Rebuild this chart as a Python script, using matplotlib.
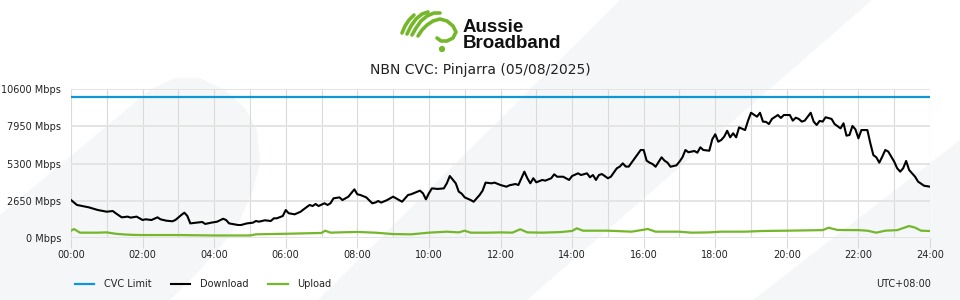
import matplotlib.pyplot as plt
from matplotlib.patches import Polygon, Circle
import numpy as np

plt.rcParams['font.family'] = ['DejaVu Sans']

# NBN CVC Pinjarra 05/08/2025 (minute of day, Mbps)
cvc_limit = 10000

download = [
    (0, 2700), (10, 2350), (30, 2180), (45, 1990), (60, 1870), (70, 1920), (75, 1760),
    (85, 1470), (95, 1520), (100, 1450), (110, 1520), (120, 1280), (125, 1330), (135, 1280),
    (145, 1470), (150, 1330), (160, 1230), (170, 1190), (175, 1280), (185, 1640), (190, 1800),
    (195, 1570), (200, 1040), (210, 1090), (220, 1140), (225, 1000), (235, 1090), (245, 1160),
    (255, 1370), (260, 1280), (265, 1040), (280, 925), (285, 925), (295, 1040), (305, 1090),
    (310, 1210), (315, 1160), (325, 1260), (335, 1210), (340, 1400), (345, 1400), (355, 1565),
    (360, 1990), (365, 1760), (375, 1685), (385, 1870), (390, 2040), (400, 2350), (405, 2275),
    (410, 2420), (415, 2275), (425, 2470), (430, 2350), (435, 2470), (440, 2820), (450, 2890),
    (455, 2700), (465, 2940), (475, 3460), (480, 3110), (485, 3060), (495, 2890), (505, 2470),
    (510, 2520), (515, 2630), (520, 2520), (530, 2700), (540, 2940), (550, 2700), (555, 2580),
    (565, 3060), (570, 3110), (585, 3370), (590, 3180), (595, 2750), (600, 3180), (605, 3530),
    (615, 3490), (625, 3530), (630, 3890), (635, 4410), (645, 3890), (650, 3300), (655, 3150),
    (660, 2890), (670, 2700), (675, 2580), (685, 3060), (690, 3370), (695, 3940), (705, 3890),
    (710, 3940), (720, 3770), (730, 3650), (735, 3750), (745, 3840), (750, 3770), (755, 4250),
    (760, 4720), (765, 4250), (770, 3890), (775, 4250), (780, 3960), (790, 4130), (795, 4080),
    (805, 4250), (810, 4530), (815, 4360), (825, 4360), (835, 4130), (840, 4410), (850, 4600),
    (855, 4480), (865, 4600), (870, 4320), (875, 4480), (880, 4130), (885, 4480), (890, 4550),
    (900, 4250), (905, 4360), (915, 4960), (920, 5080), (925, 5310), (930, 5080), (935, 5080),
    (945, 5670), (955, 6260), (960, 6260), (965, 5500), (970, 5360), (975, 5260), (980, 5070),
    (990, 5740), (995, 5500), (1000, 5360), (1005, 5070), (1015, 5170), (1020, 5430),
    (1025, 5740), (1030, 6260), (1035, 6100), (1045, 6190), (1050, 6070), (1055, 6450),
    (1060, 6260), (1070, 6210), (1075, 7020), (1080, 7380), (1085, 6850), (1090, 6970),
    (1095, 7210), (1100, 7630), (1105, 7160), (1110, 7450), (1115, 7160), (1120, 7870),
    (1130, 7680), (1135, 8350), (1140, 8910), (1150, 8630), (1155, 8910), (1160, 8280),
    (1165, 8260), (1170, 8110), (1175, 8470), (1185, 8750), (1190, 8540), (1195, 8750),
    (1205, 8750), (1210, 8350), (1215, 8560), (1220, 8470), (1225, 8280), (1230, 8350),
    (1240, 8910), (1245, 8280), (1250, 8040), (1255, 8330), (1260, 8280), (1265, 8590),
    (1275, 8470), (1280, 8110), (1290, 7800), (1295, 8160), (1300, 7280), (1305, 7330),
    (1310, 7970), (1315, 7730), (1320, 7090), (1325, 7680), (1335, 7680), (1340, 6740),
    (1345, 5900), (1350, 5740), (1355, 5360), (1360, 5790), (1365, 6260), (1370, 6150),
    (1380, 5430), (1385, 4960), (1390, 4720), (1395, 4960), (1400, 5480), (1405, 4840),
    (1415, 4360), (1420, 4010), (1430, 3720), (1440, 3650),
]

upload = [
    (0, 520), (5, 640), (15, 380), (45, 380), (60, 400), (75, 300), (90, 250), (105, 220),
    (120, 210), (180, 210), (240, 180), (300, 180), (310, 260), (330, 280), (360, 300),
    (390, 330), (420, 360), (426, 520), (435, 380), (450, 400), (480, 430), (510, 380),
    (540, 280), (570, 260), (600, 380), (630, 450), (650, 400), (660, 520), (670, 380),
    (700, 380), (720, 400), (740, 380), (753, 620), (765, 400), (790, 380), (820, 420),
    (840, 500), (848, 690), (858, 520), (900, 520), (940, 450), (967, 640), (980, 450),
    (1020, 450), (1040, 380), (1070, 400), (1090, 450), (1130, 450), (1160, 500), (1200, 520),
    (1260, 560), (1270, 730), (1285, 570), (1320, 560), (1335, 520), (1350, 380), (1365, 520),
    (1385, 560), (1405, 850), (1415, 740), (1425, 520), (1440, 500),
]

y_ticks = [0, 2650, 5300, 7950, 10600]
x_ticks = list(range(0, 25, 2))

W, H = 960, 300
fig = plt.figure(figsize=(9.6, 3.0), dpi=100)
fig.patch.set_facecolor('white')


def px(pts):
    # pixel coords (from top-left) -> figure fraction
    return [(x / W, 1 - y / H) for x, y in pts]


# light grey background swooshes
bg = '#f5f6f8'
shapes = [
    [(0, 300), (170, 300), (200, 270), (222, 245), (240, 220), (253, 190), (260, 163),
     (257, 130), (245, 108), (225, 90), (200, 78), (175, 78), (150, 90), (0, 215)],
    [(318, 300), (527, 300), (872, 0), (620, 0)],
    [(753, 300), (960, 300), (960, 140)],
]
for s in shapes:
    fig.add_artist(Polygon(px(s), closed=True, transform=fig.transFigure,
                           facecolor=bg, edgecolor='none', zorder=-5))

# logo
green = '#74b72b'
lax = fig.add_axes([395 / W, 1 - 56 / H, 67 / W, 54 / H])
lax.set_xlim(395, 462)
lax.set_ylim(56, 2)
lax.axis('off')
strokes = [
    [(402, 33), (405, 26), (409, 20), (414, 15)],
    [(407, 34), (411, 26), (416, 19), (422, 14), (428, 12)],
    [(412, 35), (416, 28), (421, 21), (427, 16), (434, 13), (440, 13)],
    [(418, 36), (422, 30), (427, 25), (433, 21), (440, 19), (447, 21), (453, 26),
     (456, 32), (453, 38), (447, 41), (441, 41), (437, 38)],
]
for st in strokes:
    sx, sy = zip(*st)
    lax.plot(sx, sy, color=green, lw=2.6, solid_capstyle='round', solid_joinstyle='round')
lax.add_patch(Circle((442, 49), 2.4, color=green))
fig.text(463 / W, 1 - 32 / H, 'Aussie', family='Liberation Sans', weight='bold',
         fontsize=13.5, color='#111111', va='baseline')
fig.text(463 / W, 1 - 48 / H, 'Broadband', family='Liberation Sans', weight='bold',
         fontsize=13.5, color='#111111', va='baseline')

fig.text(0.5, 1 - 70 / H, 'NBN CVC: Pinjarra (05/08/2025)', ha='center', va='center',
         fontsize=10, color='#222222')

# main chart
ax = fig.add_axes([71 / W, 62 / H, 859 / W, 149 / H])
ax.set_facecolor('none')
for sp in ax.spines.values():
    sp.set_visible(False)

dl_t, dl_v = zip(*download)
ul_t, ul_v = zip(*upload)
dl_h = np.array(dl_t) / 60
ul_h = np.array(ul_t) / 60

l1 = ax.axhline(cvc_limit, color='#0b97d8', lw=1.6, label='CVC Limit', zorder=3)
l2, = ax.plot(dl_h, dl_v, color='black', lw=1.5, label='Download', zorder=4)
l3, = ax.plot(ul_h, ul_v, color=green, lw=1.6, label='Upload', zorder=4)

ax.set_xlim(0, 24)
ax.set_ylim(0, 10600)
ax.set_xticks(x_ticks, labels=[f'{h:02d}:00' for h in x_ticks])
ax.set_xticks(range(25), minor=True)
ax.set_yticks(y_ticks, labels=[f'{v} Mbps' for v in y_ticks])
ax.grid(axis='x', which='both', color='#dadada', lw=0.8)
ax.grid(axis='y', which='major', color='#e4e4e4', lw=1.4)
ax.tick_params(axis='x', which='major', length=7, width=0.8, color='#dadada',
               labelsize=7, pad=2, labelcolor='#222222')
ax.tick_params(axis='x', which='minor', length=0)
ax.tick_params(axis='y', length=0, pad=7, labelsize=7, labelcolor='#222222')

fig.legend(handles=[l1, l2, l3], loc='center left', bbox_to_anchor=(66 / W, 1 - 284 / H),
           ncol=3, frameon=False, fontsize=7, handlelength=2, handletextpad=1.0,
           columnspacing=2.0, borderpad=0.4, labelcolor='#222222')
fig.text(931 / W, 1 - 284 / H, 'UTC+08:00', ha='right', va='center', fontsize=7,
         color='#222222')

fig.savefig('out.png', dpi=100)
